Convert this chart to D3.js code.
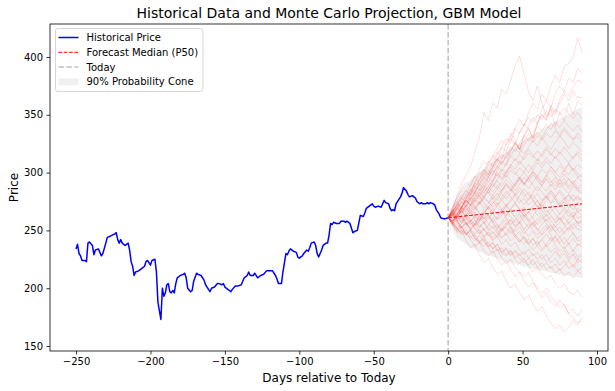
<!DOCTYPE html>
<html><head><meta charset="utf-8">
<script src="https://cdn.jsdelivr.net/npm/d3@7"></script>
<style>
html,body{margin:0;padding:0;background:#fff;}
svg{display:block;font-family:"DejaVu Sans",sans-serif;}
</style></head>
<body><svg id="c" width="615" height="391"></svg>
<script>
// Historical price (day relative to today, price)
const histDays = [-250,-249,-248,-247,-246,-244,-243,-242,-241,-239,-238,-237,-235,-233,-232,-230,-229,-227,-224,-223,-222,-221,-220,-219,-217,-215,-214,-213,-212,-211,-210,-208,-206,-204,-203,-202,-200,-199,-197,-196,-195,-193,-192,-191,-190,-189,-188,-187,-186,-185,-184,-183,-182,-180,-178,-177,-176,-175,-173,-172,-171,-169,-168,-166,-164,-163,-162,-160,-159,-157,-155,-154,-152,-151,-150,-148,-147,-146,-145,-143,-141,-139,-137,-135,-134,-133,-131,-130,-128,-126,-124,-122,-120,-118,-116,-115,-114,-112,-111,-110,-109,-108,-107,-106,-104,-102,-101,-100,-98,-97,-95,-94,-93,-92,-90,-89,-88,-87,-85,-84,-82,-81,-80,-79,-78,-77,-75,-73,-72,-70,-69,-68,-66,-65,-64,-63,-61,-59,-57,-56,-55,-53,-51,-50,-49,-47,-45,-44,-43,-42,-40,-39,-38,-37,-36,-35,-33,-32,-31,-30,-28,-27,-26,-24,-23,-22,-21,-19,-18,-17,-15,-14,-13,-12,-10,-9,-8,-6,-5,-3,-2,0];
const histPrice = [234,238,230,228,224,224,223,239,240,237,229,233,234,228,230,239,244,245,247,248,242,239,242,239,237,239,233,223,219,211,214,215,217,219,223,224,220,224,225,214,188,173,200,193,196,203,204,197,196,198,196,204,209,211,212,213,209,200,197,198,206,213,212,211,207,203,201,197,200,201,204,204,203,204,201,199,198,197,199,202,202,203,209,211,214,211,211,213,209,211,212,215,215,215,211,208,204,204,214,222,230,229,232,234,232,231,227,226,228,230,233,232,235,239,240,237,230,227,233,237,239,239,246,256,255,257,256,256,258,258,257,258,256,252,248,249,250,263,262,265,269,271,273,271,270,271,270,273,276,274,273,269,267,268,267,273,277,279,282,287,284,281,279,280,279,278,275,273,274,273,273,274,273,274,273,272,268,264,261,260,260,261];

// Forecast cone (5% / 50% / 95%)
const coneDays = [0,5,10,20,30,40,50,60,70,80,90];
const coneLow  = [261,245.6,239.8,232.3,226.9,222.7,219.1,216.0,213.3,210.9,208.7];
const coneMed  = [261,261.6,262.3,263.6,265.0,266.3,267.6,269.0,270.3,271.7,273.0];
const coneHigh = [261,278.7,286.9,299.2,309.4,318.5,326.9,334.9,342.5,349.9,357.1];

// Simulated paths, one value every 3 days from day 0 to day 90
const simDays = d3.range(0, 91, 3);
const simPaths = [
[261,268,280,290,298,305,318,330,352,345,360,356,372,368,380,392,401,385,370,362,375,360,348,355,340,352,345,360,350,362,358],
[261,266,272,279,285,281,292,300,296,308,315,310,322,330,326,338,346,340,352,360,355,368,362,375,384,378,392,394,400,416,404],
[261,257,264,270,278,286,282,294,302,298,310,318,312,325,334,328,320,332,340,348,342,355,362,356,368,375,370,382,378,390,386],
[261,265,260,270,276,272,283,290,286,296,292,302,310,306,318,326,320,332,338,330,344,350,346,358,352,364,370,366,374,380,378],
[261,270,275,268,280,290,297,290,300,310,305,316,322,318,330,324,335,342,338,330,342,350,345,356,350,360,368,362,370,365,365],
[261,255,248,250,241,235,238,229,222,226,218,212,215,206,200,204,196,190,194,186,180,184,176,170,165,168,162,166,172,168,175],
[261,258,252,246,249,242,236,240,232,228,233,225,220,224,216,210,214,206,201,205,198,192,196,188,184,190,185,178,182,176,181],
[261,264,258,252,256,248,244,238,242,235,230,234,226,221,225,218,214,210,214,206,200,196,200,193,188,183,186,178,174,170,172],
[261,256,259,252,247,250,243,240,245,238,234,238,231,228,232,225,221,226,219,214,218,212,208,211,204,200,204,197,194,198,192],
[261,254,258,250,246,251,244,240,243,236,239,232,235,229,233,226,230,224,220,225,218,222,216,219,213,217,210,214,209,215,212],
[261,266,259,262,255,258,251,247,252,246,241,245,238,242,236,240,233,229,234,228,231,225,229,222,226,220,224,217,221,215,218],
[261,258,263,256,260,266,259,253,257,250,254,248,243,247,241,245,249,242,238,243,236,232,237,231,235,228,233,226,230,222,225],
[261,263,256,252,257,251,255,262,258,252,247,251,244,248,253,246,242,238,243,237,241,234,238,244,237,232,236,229,233,227,230],
[261,255,249,253,246,250,256,249,244,248,242,246,251,257,252,246,240,244,238,233,237,242,236,240,245,238,234,239,232,238,236],
[261,268,262,270,265,258,262,256,250,254,261,255,249,253,247,251,257,250,245,249,243,247,253,246,240,244,238,243,248,241,242],
[261,257,262,268,261,255,259,252,257,263,256,251,255,260,254,249,253,247,252,258,251,246,250,255,249,244,249,253,247,243,246],
[261,265,270,264,271,277,270,265,260,264,257,262,268,261,255,259,264,258,252,256,250,255,260,254,249,253,247,252,256,251,250],
[261,256,251,256,262,257,252,247,251,245,249,244,250,255,260,254,258,264,258,253,257,262,256,251,256,261,255,250,254,258,255],
[261,267,261,257,263,268,263,259,265,270,264,260,266,271,266,261,256,261,266,260,255,259,264,258,253,257,262,256,261,256,259],
[261,258,264,270,266,272,268,274,280,275,270,274,268,263,268,273,268,262,266,271,276,270,265,269,264,259,264,268,262,266,263],
[261,264,258,263,257,252,256,262,268,263,258,252,257,263,269,274,268,263,258,262,268,273,268,263,259,265,270,265,261,269,267],
[261,256,262,258,264,260,254,259,265,271,266,272,278,284,279,274,280,286,281,276,270,275,280,274,279,273,278,272,268,274,271],
[261,266,272,278,273,279,285,280,274,268,273,279,285,291,286,281,287,282,276,281,275,270,276,282,277,271,276,281,275,279,274],
[261,257,252,248,253,258,263,258,264,270,275,270,266,271,277,282,277,272,277,283,288,283,278,284,279,285,280,275,281,276,278],
[261,266,270,266,272,268,274,280,286,282,288,293,288,294,290,284,290,296,292,298,293,288,284,290,285,291,286,282,288,284,282],
[261,255,261,267,263,270,276,272,278,274,280,276,283,289,284,290,296,291,286,292,297,292,298,293,288,294,289,295,290,286,287],
[261,264,269,265,270,264,268,274,279,285,280,286,282,277,283,289,295,290,296,301,296,291,297,302,297,293,299,294,290,296,292],
[261,267,273,279,274,281,288,284,290,296,302,297,303,299,305,300,295,301,307,302,309,304,310,305,300,306,301,307,302,296,298],
[261,258,264,270,276,272,279,286,282,288,294,300,295,301,307,303,310,305,300,306,312,307,313,308,314,309,303,308,302,307,304],
[261,265,260,266,272,279,275,282,289,285,292,298,294,300,306,312,307,314,320,315,310,316,322,317,312,318,313,308,314,316,310],
[261,268,275,281,277,284,291,297,303,298,305,312,307,314,320,326,321,316,322,328,323,330,325,320,326,332,327,321,326,322,318],
[261,263,270,277,284,280,287,294,300,296,303,310,316,312,319,325,320,327,333,329,335,330,337,343,338,333,339,334,329,331,326],
[261,266,272,268,275,282,289,285,292,299,305,312,308,315,322,318,325,332,327,334,340,336,342,337,344,339,345,340,336,341,335],
[261,270,278,285,292,288,296,303,310,306,314,321,328,324,331,338,334,341,348,343,350,346,353,348,355,350,356,351,347,352,346],
[261,256,250,254,247,243,247,240,236,240,234,238,231,235,229,233,228,232,226,230,225,229,223,227,232,226,230,224,229,225,228],
[261,264,259,253,257,251,247,251,245,249,244,248,252,246,250,244,240,245,239,243,238,242,247,241,245,239,244,238,243,237,240],
[261,259,265,260,255,259,254,258,262,256,251,255,250,254,259,253,257,251,256,250,246,251,255,249,254,248,253,257,251,255,252],
[261,263,268,263,258,262,266,261,256,260,265,259,263,268,262,257,261,266,260,255,260,264,258,262,257,261,255,260,263,256,258],
[261,258,262,267,262,266,271,265,260,264,269,264,268,273,267,262,266,270,265,269,263,267,262,266,270,264,268,262,266,261,262],
[261,266,262,267,271,266,270,275,269,273,278,272,276,271,275,280,274,278,272,276,270,274,279,273,277,271,275,269,273,266,268],
[261,260,266,271,267,272,278,273,278,283,277,282,276,281,286,280,284,279,283,277,282,276,280,285,279,283,277,281,276,280,276],
[261,264,270,275,270,276,281,277,283,288,283,289,284,290,286,291,296,290,295,289,284,289,294,288,293,287,292,286,290,285,284],
[261,268,264,270,276,271,277,283,279,285,291,286,292,298,293,288,294,289,295,300,294,289,295,291,296,290,295,288,293,287,290],
[261,262,268,274,281,277,283,290,296,292,299,306,301,308,314,310,316,311,317,313,319,314,320,315,321,316,322,317,312,318,315],
[261,266,273,270,277,284,291,288,295,302,298,305,312,318,314,321,317,324,330,326,332,328,334,330,336,331,337,332,328,334,330],
[261,257,252,247,251,245,241,246,240,236,240,234,230,234,228,232,226,222,226,220,224,218,222,217,221,215,219,224,218,225,222],
[261,263,269,275,271,277,283,279,286,292,288,294,300,296,302,298,304,300,295,301,297,303,299,305,300,296,302,298,304,299,296]
];

const xTicks = [-250,-200,-150,-100,-50,0,50,100];
const yTicks = [150,200,250,300,350,400];
const legendLabels = ["Historical Price","Forecast Median (P50)","Today","90% Probability Cone"];

const svg = d3.select("#c");
const L = 50, R = 608, T = 24, B = 351;
const x = d3.scaleLinear().domain([-267.5, 107.4]).range([L, R]);
const y = d3.scaleLinear().domain([145.7, 428.5]).range([B, T]);

const g = svg.append("g");
svg.append("clipPath").attr("id","clp").append("rect")
  .attr("x",L).attr("y",T).attr("width",R-L).attr("height",B-T);
const pg = g.append("g").attr("clip-path","url(#clp)");

// cone
const area = d3.area().x((d,i)=>x(coneDays[i])).y0((d,i)=>y(coneLow[i])).y1((d,i)=>y(coneHigh[i])).curve(d3.curveMonotoneX);
pg.append("path").attr("d", area(coneDays)).attr("fill","#808080").attr("fill-opacity",0.12);

// sims
const simLine = d3.line().x((d,i)=>x(simDays[i])).y(d=>y(d));
pg.selectAll("path.sim").data(simPaths).join("path").attr("class","sim")
  .attr("d", simLine).attr("fill","none").attr("stroke","#ff0000")
  .attr("stroke-opacity",0.15).attr("stroke-width",0.9).attr("stroke-linejoin","round");

// historical
const hLine = d3.line().x((d,i)=>x(histDays[i])).y(d=>y(d));
pg.append("path").attr("d", hLine(histPrice)).attr("fill","none").attr("stroke","#0000ff").attr("stroke-width",1.5).attr("stroke-linejoin","round");

// median
const mLine = d3.line().x((d,i)=>x(coneDays[i])).y(d=>y(d)).curve(d3.curveMonotoneX);
pg.append("path").attr("d", mLine(coneMed)).attr("fill","none").attr("stroke","#ff0000").attr("stroke-width",1).attr("stroke-dasharray","3.7,1.6");

// today
pg.append("line").attr("x1",x(0)).attr("x2",x(0)).attr("y1",T).attr("y2",B)
  .attr("stroke","#808080").attr("stroke-opacity",0.5).attr("stroke-width",1.5).attr("stroke-dasharray","5.5,2.4");

// axes
const xa = g.append("g").attr("transform",`translate(0,${B})`)
  .call(d3.axisBottom(x).tickValues(xTicks).tickSize(3.5).tickPadding(3.5));
const ya = g.append("g").attr("transform",`translate(${L},0)`)
  .call(d3.axisLeft(y).tickValues(yTicks).tickSize(3.5).tickPadding(3.5));
[xa,ya].forEach(a=>{
  a.select(".domain").remove();
  a.selectAll("text").attr("font-size",10).attr("font-family","DejaVu Sans").attr("fill","#000");
  a.selectAll("line").attr("stroke","#000").attr("stroke-width",0.8);
});
g.append("rect").attr("x",L).attr("y",T).attr("width",R-L).attr("height",B-T)
  .attr("fill","none").attr("stroke","#000").attr("stroke-width",0.8);

// labels
svg.append("text").attr("x",(L+R)/2).attr("y",18).attr("text-anchor","middle")
  .attr("font-size",14).text("Historical Data and Monte Carlo Projection, GBM Model");
svg.append("text").attr("x",(L+R)/2).attr("y",382).attr("text-anchor","middle")
  .attr("font-size",12).text("Days relative to Today");
svg.append("text").attr("transform",`translate(18,${(T+B)/2}) rotate(-90)`).attr("text-anchor","middle")
  .attr("font-size",12).text("Price");

// legend
const lg = svg.append("g");
lg.append("rect").attr("x",55.5).attr("y",28.5).attr("width",147.5).attr("height",63).attr("rx",2.5)
  .attr("fill","#fff").attr("fill-opacity",0.8).attr("stroke","#cccccc").attr("stroke-width",0.8);
const rows = [37.5,52.3,67.1,81.9];
lg.append("line").attr("x1",58.5).attr("x2",78.5).attr("y1",rows[0]).attr("y2",rows[0]).attr("stroke","#0000ff").attr("stroke-width",1.5);
lg.append("line").attr("x1",58.5).attr("x2",78.5).attr("y1",rows[1]).attr("y2",rows[1]).attr("stroke","#ff0000").attr("stroke-width",1).attr("stroke-dasharray","3.7,1.6");
lg.append("line").attr("x1",58.5).attr("x2",78.5).attr("y1",rows[2]).attr("y2",rows[2]).attr("stroke","#808080").attr("stroke-opacity",0.5).attr("stroke-width",1.5).attr("stroke-dasharray","5.5,2.4");
lg.append("rect").attr("x",58.5).attr("y",rows[3]-3.5).attr("width",20).attr("height",7).attr("fill","#808080").attr("fill-opacity",0.12);
legendLabels.forEach((t,i)=>{
  lg.append("text").attr("x",86.5).attr("y",rows[i]).attr("dy","0.35em").attr("font-size",10).text(t);
});
</script></body></html>
